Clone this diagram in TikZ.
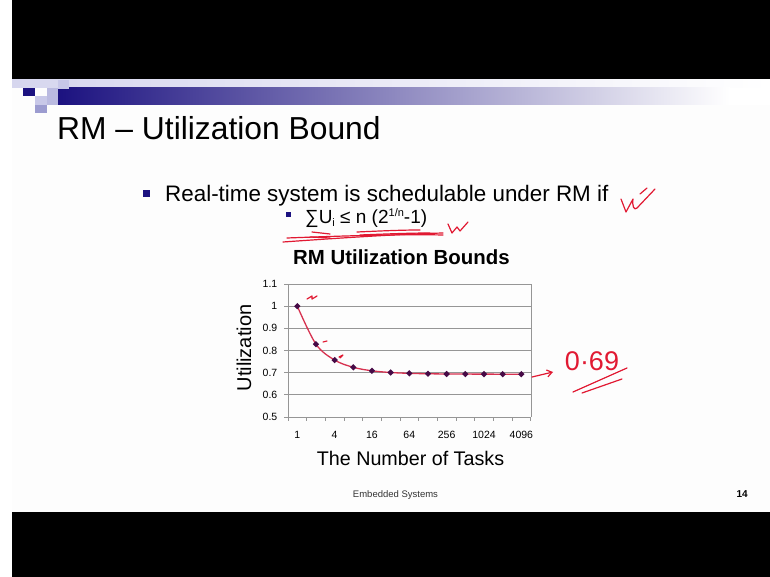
\documentclass[tikz,border=0pt]{standalone}
\usepackage{fontspec}
\setmainfont{Liberation Sans}
\usetikzlibrary{arrows.meta,calc}
\definecolor{navy}{RGB}{28,18,128}
\definecolor{lav}{RGB}{214,214,238}
\definecolor{sq1}{RGB}{186,186,224}
\definecolor{sq2}{RGB}{200,200,232}
\definecolor{sq3}{RGB}{156,156,208}
\definecolor{slidebg}{RGB}{253,253,253}
\definecolor{gridc}{RGB}{150,150,150}
\definecolor{curvec}{RGB}{215,50,80}
\definecolor{markc}{RGB}{70,10,70}
\definecolor{ink}{RGB}{225,25,50}
\begin{document}
\begin{tikzpicture}[x=1pt,y=-1pt,
  txt/.style={inner sep=0pt, text=black},
  gridline/.style={draw=gridc, line width=0.9pt},
  hand/.style={draw=ink, line width=1.2pt, line cap=round, line join=round}]
\useasboundingbox (0,0) rectangle (770,577);
\fill[white] (0,0) rectangle (770,577);
\fill[black] (12,0) rectangle (770,79);
\fill[black] (12,512) rectangle (770,577);
\fill[slidebg] (12,79) rectangle (770,512);
% header band
\shade[left color=lav, right color=white] (12,80) rectangle (770,88);
\shade[left color=navy, right color=white] (58,88) rectangle (730,105);
\fill[white] (730,88) rectangle (770,105);
\fill[navy] (23,88) rectangle (35,96);
\fill[sq1] (47,88) rectangle (58,105);
\fill[sq2] (58,80) rectangle (69,89);
\fill[sq2] (35,96) rectangle (47,105);
\fill[sq3] (35,105) rectangle (47,113);
% title
\node[txt, anchor=base west, font=\fontsize{31.8}{32}\selectfont] (title) at (57,140) {RM – Utilization Bound};
% bullet
\fill[navy] (143,190) rectangle (150,197) coordinate (b1);
\node[txt, anchor=base west, font=\fontsize{22.4}{24}\selectfont] (bullet) at (165,202) {Real-time system is schedulable under RM if};
\fill[navy] (286,212) rectangle (291,217) coordinate (b2);
\node[txt, anchor=base west, font=\fontsize{19}{20}\selectfont] (formula) at (305,224)
  {∑U\raisebox{-0.25ex}{\fontsize{11}{11}\selectfont i} ≤ n (2\raisebox{0.75ex}{\fontsize{11}{11}\selectfont 1/n}-1)};
% chart title
\node[txt, anchor=base west, font=\bfseries\fontsize{20.4}{22}\selectfont] (ctitle) at (293,264) {RM Utilization Bounds};
% chart grid
\foreach \i/\t in {0/0.5,1/0.6,2/0.7,3/0.8,4/0.9,5/1,6/1.1}{
  \draw[gridline] (288,{417-\i*22.17}) -- (531,{417-\i*22.17});
  \draw[gridline] (284,{417-\i*22.17}) -- (288,{417-\i*22.17});
  \node[txt, anchor=east, font=\fontsize{10.5}{10}\selectfont] (yl\i) at (277.5,{417-\i*22.17}) {\t};
}
\draw[gridline] (288,284) -- (288,417);
\draw[gridline] (531,284) -- (531,417);
\foreach \k in {0,...,13}{
  \draw[gridline] ({288+\k*18.67},417) -- ({288+\k*18.67},421);
}
\foreach \k/\t in {0/1,2/4,4/16,6/64,8/256,10/1024,12/4096}{
  \node[txt, anchor=base, font=\fontsize{10.5}{10}\selectfont] (xl\k) at ({297.3+\k*18.67},438) {\t};
}
\node[txt, anchor=base, font=\fontsize{19.7}{20}\selectfont] (xtitle) at (410.5,465) {The Number of Tasks};
\node[txt, rotate=90, font=\fontsize{20}{20}\selectfont] (ytitle) at (244,348) {Utilization};
% data
\foreach \k/\v in {0/1.0,1/0.8284,2/0.7568,3/0.7241,4/0.7084,5/0.7007,6/0.6969,7/0.6950,8/0.6941,9/0.6936,10/0.6934,11/0.6932,12/0.6932}{
  \coordinate (p\k) at ({297.3+\k*18.67},{417-(\v-0.5)*221.7});
}
\draw[curvec, line width=1.3pt] plot[smooth, tension=0.55] coordinates {(p0) (p1) (p2) (p3) (p4) (p5) (p6) (p7) (p8) (p9) (p10) (p11) (p12)};
\foreach \k in {0,...,12}{
  \fill[markc] ($(p\k)+(-3.2,0)$) -- ($(p\k)+(0,-3.2)$) -- ($(p\k)+(3.2,0)$) -- ($(p\k)+(0,3.2)$) -- cycle;
}
% footer
\node[txt, anchor=base, font=\fontsize{9.5}{10}\selectfont, text=black!80] (footer) at (395.5,497) {Embedded Systems};
\node[txt, anchor=base east, font=\bfseries\fontsize{10}{10}\selectfont] (page) at (748,497) {14};
% handwriting
\draw[hand] (621,199) -- (626,212) -- (633,199) .. controls (632,206) and (634,211) .. (637,208) -- (655,189);
\draw[hand] (640,194) -- (647,188);
\draw[hand] (448,224) -- (452,233) -- (457,227) -- (460,231) -- (468,222);
\draw[hand] (283,242) .. controls (340,238) and (400,234) .. (443,233);
\draw[hand] (287,238) .. controls (340,236) and (400,234) .. (443,235);
\draw[hand] (312,232) -- (330,234);
\draw[hand] (310,237) -- (330,238);
\draw[hand] (357,232) .. controls (380,231) and (400,230) .. (420,230);
\draw[hand] (360,235) .. controls (385,234) and (410,233) .. (430,233);
\draw[hand] (307,299) -- (312,296) -- (312,299) -- (317,296);
\draw[hand] (323,342) -- (327,341);
\draw[hand] (339,357) -- (343,355) -- (340,358);
\coordinate (arrS) at (532,377);
\node[txt, text=ink, font=\fontsize{27}{27}\selectfont] (val) at (592,361) {0·69};
\draw[hand, -{Straight Barb[length=5pt,width=7pt]}] (arrS) -- (553,372);
\draw[hand] (573,392) -- (627,368);
\draw[hand] (582,393) -- (622,379);
\end{tikzpicture}
\end{document}
